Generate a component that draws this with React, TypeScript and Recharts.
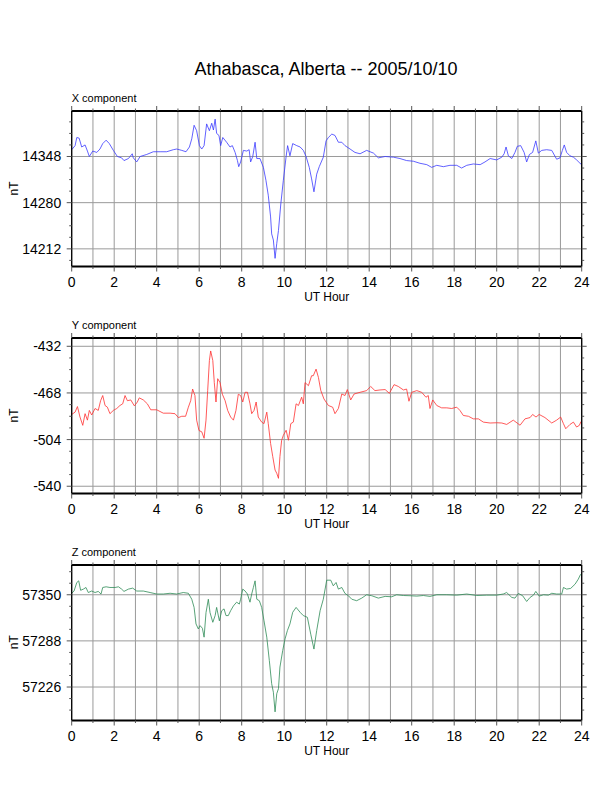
import { LineChart, Line, XAxis, YAxis, CartesianGrid, ReferenceLine } from "recharts";

const FONT = "'Liberation Sans', Arial, Helvetica, sans-serif";

const HOUR_TICKS = [0, 1, 2, 3, 4, 5, 6, 7, 8, 9, 10, 11, 12, 13, 14, 15, 16, 17, 18, 19, 20, 21, 22, 23, 24];

// X component (nT)
const X_HOURS = [
  0, 0.16, 0.24, 0.35, 0.47, 0.63, 0.74, 0.83, 0.99, 1.18, 1.33, 1.46, 1.62, 1.77, 1.96, 2.15, 2.35, 2.46, 2.67, 2.85,
  2.9, 3.06, 3.22, 3.53, 3.84, 4.16, 4.47, 4.78, 4.94, 5.18, 5.38, 5.54, 5.65, 5.76, 5.88, 6.01, 6.12, 6.23, 6.35, 6.48,
  6.59, 6.67, 6.75, 6.82, 6.93, 7.01, 7.11, 7.29, 7.45, 7.56, 7.69, 7.8, 7.86, 7.95, 8.08, 8.24, 8.35, 8.42, 8.52, 8.63,
  8.71, 8.86, 9.02, 9.14, 9.25, 9.36, 9.41, 9.49, 9.57, 9.65, 9.73, 9.84, 9.96, 10.09, 10.16, 10.27, 10.4, 10.59, 10.75, 10.9,
  11.03, 11.18, 11.29, 11.4, 11.53, 11.65, 11.84, 11.97, 12.08, 12.24, 12.39, 12.55, 12.71, 12.86, 13.1, 13.33, 13.57, 13.88, 14.2, 14.43,
  14.75, 15.14, 15.45, 15.76, 16.08, 16.39, 16.71, 16.94, 17.18, 17.49, 17.8, 18.12, 18.35, 18.59, 18.9, 19.22, 19.45, 19.69, 20.0, 20.24,
  20.35, 20.44, 20.55, 20.71, 20.86, 20.97, 21.13, 21.29, 21.41, 21.54, 21.69, 21.84, 21.96, 22.12, 22.35, 22.59, 22.82, 22.98, 23.09, 23.18,
  23.29, 23.45, 23.61, 23.76, 23.92, 24,
];
const X_NT = [
  14358, 14364, 14376, 14375, 14362, 14365, 14356, 14348, 14356, 14354, 14359, 14367, 14372, 14367, 14357, 14348, 14346, 14342, 14345, 14352,
  14346, 14340, 14348, 14351, 14355, 14355, 14355, 14358, 14359, 14357, 14355, 14362, 14374, 14394, 14386, 14364, 14359, 14364, 14396, 14386,
  14397, 14387, 14403, 14382, 14379, 14364, 14376, 14369, 14362, 14364, 14354, 14342, 14333, 14340, 14357, 14356, 14358, 14340, 14348, 14369,
  14345, 14345, 14332, 14313, 14291, 14259, 14234, 14225, 14198, 14220, 14239, 14278, 14313, 14348, 14364, 14349, 14367, 14364, 14362, 14357,
  14348, 14332, 14315, 14296, 14322, 14333, 14347, 14371, 14376, 14381, 14379, 14369, 14369, 14364, 14359, 14354, 14352, 14357, 14353, 14346,
  14348, 14347, 14345, 14342, 14341, 14338, 14336, 14332, 14335, 14333, 14335, 14335, 14331, 14335, 14337, 14336, 14340, 14345, 14343, 14347,
  14352, 14362, 14349, 14345, 14354, 14363, 14364, 14354, 14340, 14351, 14354, 14371, 14353, 14357, 14358, 14357, 14344, 14346, 14357, 14365,
  14354, 14349, 14347, 14343, 14338, 14336,
];

// Y component (nT)
const Y_HOURS = [
  0, 0.16, 0.27, 0.39, 0.52, 0.63, 0.74, 0.83, 0.94, 1.1, 1.25, 1.36, 1.46, 1.57, 1.68, 1.8, 1.96, 2.12, 2.27, 2.4,
  2.51, 2.62, 2.78, 2.95, 3.09, 3.18, 3.37, 3.56, 3.72, 4.0, 4.31, 4.63, 4.86, 5.02, 5.18, 5.36, 5.49, 5.6, 5.69, 5.8,
  5.88, 5.99, 6.12, 6.23, 6.32, 6.4, 6.48, 6.54, 6.64, 6.71, 6.79, 6.87, 6.98, 7.09, 7.22, 7.34, 7.48, 7.61, 7.73, 7.84,
  7.95, 8.05, 8.16, 8.27, 8.39, 8.47, 8.58, 8.68, 8.78, 8.94, 9.05, 9.18, 9.25, 9.36, 9.46, 9.57, 9.65, 9.73, 9.8, 9.88,
  9.96, 10.09, 10.2, 10.31, 10.43, 10.56, 10.67, 10.82, 10.9, 10.98, 11.14, 11.29, 11.37, 11.5, 11.61, 11.72, 11.87, 12.08, 12.28, 12.39,
  12.55, 12.71, 12.86, 12.97, 13.13, 13.29, 13.57, 13.88, 14.07, 14.27, 14.51, 14.75, 14.95, 15.17, 15.37, 15.61, 15.76, 15.87, 16.0, 16.24,
  16.47, 16.67, 16.78, 16.86, 16.99, 17.18, 17.41, 17.65, 17.88, 18.12, 18.27, 18.43, 18.67, 18.9, 19.14, 19.37, 19.69, 20.0, 20.24, 20.47,
  20.78, 21.1, 21.33, 21.57, 21.69, 21.85, 22.0, 22.27, 22.59, 22.82, 23.01, 23.14, 23.25, 23.45, 23.61, 23.76, 23.89, 23.97,
];
const Y_NT = [
  -484.6, -482.8, -478.5, -486.6, -493, -484, -489, -481.5, -485, -480, -481.5, -474, -470, -477.7, -479, -484, -481.5, -480, -477.7, -476.4,
  -470, -474, -473.4, -478, -475, -471.8, -473.4, -476.4, -481, -481, -483.6, -483.6, -484, -487, -486, -486, -479, -474, -465, -470,
  -489, -497, -498, -503, -489, -466, -443, -435.6, -443, -460, -475, -457, -460, -469, -474, -481.5, -486.6, -489, -481.5, -469,
  -470, -475, -467.5, -467.5, -476.4, -484, -481.5, -475, -486.6, -490.5, -491.7, -482.8, -491.7, -507, -517, -527.5, -530, -533.9, -517, -504.5,
  -500.7, -496.8, -504.5, -491.7, -490.5, -476.4, -477.7, -471.3, -476.4, -460, -462.4, -454.7, -454.7, -449.6, -456, -466, -472.6, -477.7, -479, -484,
  -480, -468.8, -470, -465.4, -473.4, -468.8, -467.5, -466.2, -463, -466.2, -465.7, -465.4, -468.3, -461.6, -463, -465.7, -465, -474.4, -467.5, -466.2,
  -467.5, -471.3, -470, -480, -473.4, -477.7, -479.5, -479.5, -480, -479, -481.5, -485.4, -486, -488, -488, -490.5, -491.2, -491, -491.2, -492.3,
  -489, -492.9, -488, -487, -484.6, -486.6, -484.6, -487, -491.2, -489, -486.6, -491.7, -495.6, -492.3, -490.5, -494.3, -493, -490,
];

// Z component (nT)
const Z_HOURS = [
  0, 0.11, 0.24, 0.33, 0.42, 0.55, 0.67, 0.78, 0.94, 1.1, 1.25, 1.38, 1.46, 1.62, 1.8, 2.04, 2.2, 2.35, 2.46, 2.67,
  2.87, 3.06, 3.37, 3.69, 4.0, 4.31, 4.63, 4.94, 5.25, 5.49, 5.65, 5.76, 5.85, 5.96, 6.04, 6.15, 6.23, 6.32, 6.43, 6.51,
  6.64, 6.75, 6.82, 6.95, 7.06, 7.17, 7.26, 7.37, 7.48, 7.61, 7.76, 7.89, 7.95, 8.05, 8.16, 8.27, 8.39, 8.47, 8.55, 8.63,
  8.71, 8.83, 8.94, 9.05, 9.18, 9.3, 9.41, 9.49, 9.57, 9.65, 9.73, 9.8, 9.93, 10.04, 10.15, 10.27, 10.4, 10.56, 10.75, 10.9,
  11.09, 11.25, 11.4, 11.53, 11.69, 11.84, 12.0, 12.19, 12.31, 12.44, 12.55, 12.71, 12.86, 13.02, 13.18, 13.41, 13.65, 13.88, 14.12, 14.43,
  14.75, 15.06, 15.29, 15.61, 15.92, 16.24, 16.55, 16.86, 17.18, 17.65, 18.12, 18.59, 19.06, 19.53, 20.0, 20.31, 20.47, 20.71, 20.86, 21.02,
  21.22, 21.41, 21.57, 21.73, 21.84, 22.0, 22.2, 22.43, 22.59, 22.82, 23.06, 23.14, 23.29, 23.48, 23.69, 23.84, 23.95,
];
const Z_NT = [
  57352, 57355, 57366.5, 57368.7, 57356, 57357.6, 57359.8, 57353, 57355, 57353, 57354.5, 57351, 57359.8, 57360.7, 57359.8, 57359.8, 57360.7, 57357.6, 57354.5, 57357.6,
  57358.9, 57355, 57355, 57353, 57351, 57351, 57352, 57351, 57353, 57352, 57344, 57333, 57310.8, 57304, 57308.5, 57305, 57293, 57326, 57344, 57326,
  57313, 57322, 57333, 57315, 57328.6, 57331, 57322, 57322, 57328.6, 57335, 57340, 57337.5, 57344, 57357.6, 57355, 57351, 57340, 57351, 57359.8, 57368.7,
  57344, 57342, 57333, 57315, 57293, 57261.7, 57230.5, 57219, 57192.6, 57217, 57223.8, 57252.8, 57275, 57290.7, 57301.8, 57310.8, 57326.4, 57333, 57326.4, 57322,
  57319.7, 57297, 57277, 57302, 57328.6, 57344, 57369.6, 57369.6, 57362, 57366.5, 57357.6, 57359.8, 57351.8, 57348.7, 57344, 57342, 57345.5, 57350, 57348.7, 57345.5,
  57347.8, 57347.3, 57350, 57349, 57348.7, 57348.2, 57349, 57347.8, 57350, 57350, 57349.5, 57351, 57349, 57349.5, 57349.5, 57351, 57353, 57346.4, 57345.5, 57351.8,
  57348.7, 57341, 57346.4, 57349.5, 57354.5, 57348.2, 57350, 57349.5, 57352, 57351, 57351, 57359.8, 57357.6, 57358.5, 57364.3, 57371, 57377.6,
];

// y-axis ticks: labelled (with grid line) and minor
const X_MAJOR = [14212, 14280, 14348];
const X_MINOR = [14195, 14229, 14246, 14263, 14297, 14314, 14331, 14365, 14382, 14399];
const Y_MAJOR = [-540, -504, -468, -432];
const Y_MINOR = [-531, -522, -513, -495, -486, -477, -459, -450, -441];
const Z_MAJOR = [57226, 57288, 57350];
const Z_MINOR = [57195, 57210.5, 57241.5, 57257, 57272.5, 57303.5, 57319, 57334.5, 57365.5, 57381];

const PLOT_H = 155.5;
const TICK = "#555";
const GRID = "#9a9a9a";

function toRows(hours: number[], values: number[]) {
  return hours.map((h, i) => ({ h, v: values[i] }));
}

function BottomTick({ x, y, payload }: any) {
  const major = payload.value % 2 === 0;
  return (
    <g>
      <line x1={x} y1={y} x2={x} y2={y + (major ? 5 : 2.5)} stroke={TICK} />
      {major && (
        <text x={x} y={y + 20.5} textAnchor="middle" fontSize={14} fontFamily={FONT} fill="#000">
          {payload.value}
        </text>
      )}
    </g>
  );
}

function TopTick({ x, y, payload }: any) {
  const major = payload.value % 2 === 0;
  return <line x1={x} y1={y} x2={x} y2={y - (major ? 5 : 2.5)} stroke={TICK} />;
}

function makeLeftTick(major: number[]) {
  return ({ x, y, payload }: any) => {
    const isMajor = major.includes(payload.value);
    return (
      <g>
        <line x1={x} y1={y} x2={x - (isMajor ? 5 : 2.5)} y2={y} stroke={TICK} />
        {isMajor && (
          <text x={x - 10.5} y={y + 5} textAnchor="end" fontSize={14} fontFamily={FONT} fill="#000">
            {payload.value}
          </text>
        )}
      </g>
    );
  };
}

function makeRightTick(major: number[]) {
  return ({ x, y, payload }: any) => {
    const isMajor = major.includes(payload.value);
    return <line x1={x} y1={y} x2={x + (isMajor ? 5 : 2.5)} y2={y} stroke={TICK} />;
  };
}

interface PanelProps {
  top: number;
  rows: { h: number; v: number }[];
  color: string;
  domain: [number, number];
  major: number[];
  minor: number[];
}

function Panel({ top, rows, color, domain, major, minor }: PanelProps) {
  const ticks = [...minor, ...major].sort((a, b) => a - b);
  return (
    <div style={{ position: "absolute", left: 0, top: top - 40 }}>
      <LineChart
        width={612}
        height={40 + PLOT_H + 50}
        data={rows}
        margin={{ top: 20, right: 10.3, bottom: 10, left: 11.7 }}
      >
        <CartesianGrid horizontal={false} stroke={GRID} strokeWidth={1} />
        {major.map((m) => (
          <ReferenceLine key={m} y={m} stroke={GRID} strokeWidth={1} />
        ))}
        <Line
          type="linear"
          dataKey="v"
          stroke={color}
          strokeWidth={0.8}
          dot={false}
          isAnimationActive={false}
        />
        <XAxis
          type="number"
          dataKey="h"
          domain={[0, 24]}
          ticks={HOUR_TICKS}
          interval={0}
          height={40}
          tickSize={0}
          tickMargin={0}
          tickLine={false}
          tick={BottomTick}
          axisLine={{ stroke: "#000", strokeWidth: 2 }}
        />
        <XAxis
          xAxisId="top"
          orientation="top"
          type="number"
          dataKey="h"
          domain={[0, 24]}
          ticks={HOUR_TICKS}
          interval={0}
          height={20}
          tickSize={0}
          tickMargin={0}
          tickLine={false}
          tick={TopTick}
          axisLine={{ stroke: "#000", strokeWidth: 2 }}
        />
        <YAxis
          type="number"
          domain={domain}
          allowDataOverflow
          ticks={ticks}
          interval={0}
          width={60}
          tickSize={0}
          tickMargin={0}
          tickLine={false}
          tick={makeLeftTick(major)}
          axisLine={{ stroke: "#000", strokeWidth: 1.3 }}
        />
        <YAxis
          yAxisId="right"
          orientation="right"
          type="number"
          domain={domain}
          allowDataOverflow
          ticks={ticks}
          interval={0}
          width={20}
          tickSize={0}
          tickMargin={0}
          tickLine={false}
          tick={makeRightTick(major)}
          axisLine={{ stroke: "#000", strokeWidth: 1.3 }}
        />
      </LineChart>
    </div>
  );
}

const PANEL_TOPS = [110.7, 337.7, 564.5];
const PANEL_TITLES = ["X component", "Y component", "Z component"];

export default function App() {
  return (
    <div style={{ position: "absolute", left: 0, top: 0, width: 612, height: 792, background: "#fff" }}>
      <Panel top={PANEL_TOPS[0]} rows={toRows(X_HOURS, X_NT)} color="#3a3aff" domain={[14186, 14415]} major={X_MAJOR} minor={X_MINOR} />
      <Panel top={PANEL_TOPS[1]} rows={toRows(Y_HOURS, Y_NT)} color="#ff3030" domain={[-545.6, -425.6]} major={Y_MAJOR} minor={Y_MINOR} />
      <Panel top={PANEL_TOPS[2]} rows={toRows(Z_HOURS, Z_NT)} color="#2e8b57" domain={[57181, 57390]} major={Z_MAJOR} minor={Z_MINOR} />
      <svg width={612} height={792} style={{ position: "absolute", left: 0, top: 0, pointerEvents: "none" }}>
        <text x={326} y={75} textAnchor="middle" fontSize={18} fontFamily={FONT} fill="#000">
          Athabasca, Alberta -- 2005/10/10
        </text>
        {PANEL_TOPS.map((t, i) => (
          <g key={i}>
            <text x={71.7} y={t - 9} fontSize={11} fontFamily={FONT} fill="#000">
              {PANEL_TITLES[i]}
            </text>
            <text x={326.7} y={t + PLOT_H + 34.5} textAnchor="middle" fontSize={12} fontFamily={FONT} fill="#000">
              UT Hour
            </text>
            <text
              x={18.3}
              y={t + PLOT_H / 2}
              transform={`rotate(-90 18.3 ${t + PLOT_H / 2})`}
              textAnchor="middle"
              fontSize={12}
              fontFamily={FONT}
              fill="#000"
            >
              nT
            </text>
          </g>
        ))}
      </svg>
    </div>
  );
}
